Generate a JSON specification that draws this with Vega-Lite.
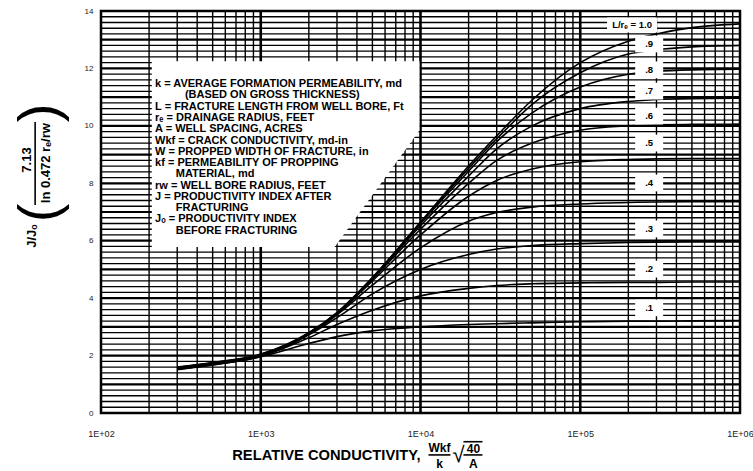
{
  "$schema": "https://vega.github.io/schema/vega-lite/v6.json",
  "width": 639,
  "height": 402,
  "autosize": {"type": "none"},
  "padding": {"left": 101, "top": 11, "right": 13, "bottom": 58},
  "background": "white",
  "config": {
    "view": {"stroke": "#000", "strokeWidth": 2.5},
    "text": {"font": "Liberation Sans"},
    "axis": {"labelFont": "Liberation Sans", "title": null, "grid": false, "ticks": false, "domain": false}
  },
  "datasets": {
    "hminor": [
      {"v":0.2},{"v":0.4},{"v":0.6},{"v":0.8},{"v":1.2},{"v":1.4},{"v":1.6},{"v":1.8},
      {"v":2.2},{"v":2.4},{"v":2.6},{"v":2.8},{"v":3.2},{"v":3.4},{"v":3.6},{"v":3.8},
      {"v":4.2},{"v":4.4},{"v":4.6},{"v":4.8},{"v":5.2},{"v":5.4},{"v":5.6},{"v":5.8},
      {"v":6.2},{"v":6.4},{"v":6.6},{"v":6.8},{"v":7.2},{"v":7.4},{"v":7.6},{"v":7.8},
      {"v":8.2},{"v":8.4},{"v":8.6},{"v":8.8},{"v":9.2},{"v":9.4},{"v":9.6},{"v":9.8},
      {"v":10.2},{"v":10.4},{"v":10.6},{"v":10.8},{"v":11.2},{"v":11.4},{"v":11.6},{"v":11.8},
      {"v":12.2},{"v":12.4},{"v":12.6},{"v":12.8},{"v":13.2},{"v":13.4},{"v":13.6},{"v":13.8}
    ],
    "hmajor": [
      {"v":1},{"v":2},{"v":3},{"v":4},{"v":5},{"v":6},{"v":7},
      {"v":8},{"v":9},{"v":10},{"v":11},{"v":12},{"v":13}
    ],
    "vminor": [
      {"x":200},{"x":300},{"x":400},{"x":500},{"x":600},{"x":700},{"x":800},{"x":900},
      {"x":2000},{"x":3000},{"x":4000},{"x":5000},{"x":6000},{"x":7000},{"x":8000},{"x":9000},
      {"x":20000},{"x":30000},{"x":40000},{"x":50000},{"x":60000},{"x":70000},{"x":80000},{"x":90000},
      {"x":200000},{"x":300000},{"x":400000},{"x":500000},{"x":600000},{"x":700000},{"x":800000},{"x":900000}
    ],
    "vmajor": [{"x":1000},{"x":10000},{"x":100000}],
    "panel": [
      {"x":208,"top":12.25,"bottom":5.78},
      {"x":2900,"top":12.25,"bottom":5.78},
      {"x":9860,"top":12.25,"bottom":9.85}
    ],
    "curves": [
      {"c":"1.0","x":300,"v":1.6},{"c":"1.0","x":500,"v":1.76},{"c":"1.0","x":1000,"v":2.05},{"c":"1.0","x":2000,"v":2.8},{"c":"1.0","x":3000,"v":3.5},{"c":"1.0","x":5000,"v":4.72},{"c":"1.0","x":10000,"v":6.65},{"c":"1.0","x":20000,"v":8.6},{"c":"1.0","x":30000,"v":9.65},{"c":"1.0","x":50000,"v":10.9},{"c":"1.0","x":100000,"v":12.2},{"c":"1.0","x":200000,"v":12.95},{"c":"1.0","x":300000,"v":13.2},{"c":"1.0","x":500000,"v":13.42},{"c":"1.0","x":1000000,"v":13.55},
      {"c":"0.9","x":300,"v":1.59},{"c":"0.9","x":500,"v":1.75},{"c":"0.9","x":1000,"v":2.04},{"c":"0.9","x":2000,"v":2.79},{"c":"0.9","x":3000,"v":3.49},{"c":"0.9","x":5000,"v":4.71},{"c":"0.9","x":10000,"v":6.63},{"c":"0.9","x":20000,"v":8.52},{"c":"0.9","x":30000,"v":9.55},{"c":"0.9","x":50000,"v":10.75},{"c":"0.9","x":100000,"v":11.85},{"c":"0.9","x":200000,"v":12.5},{"c":"0.9","x":300000,"v":12.65},{"c":"0.9","x":500000,"v":12.75},{"c":"0.9","x":1000000,"v":12.8},
      {"c":"0.8","x":300,"v":1.58},{"c":"0.8","x":500,"v":1.74},{"c":"0.8","x":1000,"v":2.03},{"c":"0.8","x":2000,"v":2.78},{"c":"0.8","x":3000,"v":3.48},{"c":"0.8","x":5000,"v":4.7},{"c":"0.8","x":10000,"v":6.6},{"c":"0.8","x":20000,"v":8.42},{"c":"0.8","x":30000,"v":9.45},{"c":"0.8","x":50000,"v":10.45},{"c":"0.8","x":100000,"v":11.35},{"c":"0.8","x":200000,"v":11.8},{"c":"0.8","x":300000,"v":11.9},{"c":"0.8","x":500000,"v":11.95},{"c":"0.8","x":1000000,"v":11.97},
      {"c":"0.7","x":300,"v":1.57},{"c":"0.7","x":500,"v":1.73},{"c":"0.7","x":1000,"v":2.02},{"c":"0.7","x":2000,"v":2.77},{"c":"0.7","x":3000,"v":3.47},{"c":"0.7","x":5000,"v":4.69},{"c":"0.7","x":10000,"v":6.52},{"c":"0.7","x":20000,"v":8.25},{"c":"0.7","x":30000,"v":9.2},{"c":"0.7","x":50000,"v":10.0},{"c":"0.7","x":100000,"v":10.6},{"c":"0.7","x":200000,"v":10.85},{"c":"0.7","x":300000,"v":10.92},{"c":"0.7","x":500000,"v":10.95},{"c":"0.7","x":1000000,"v":10.96},
      {"c":"0.6","x":300,"v":1.56},{"c":"0.6","x":500,"v":1.72},{"c":"0.6","x":1000,"v":2.01},{"c":"0.6","x":2000,"v":2.76},{"c":"0.6","x":3000,"v":3.46},{"c":"0.6","x":5000,"v":4.66},{"c":"0.6","x":10000,"v":6.4},{"c":"0.6","x":20000,"v":8.0},{"c":"0.6","x":30000,"v":8.8},{"c":"0.6","x":50000,"v":9.4},{"c":"0.6","x":100000,"v":9.85},{"c":"0.6","x":200000,"v":10.0},{"c":"0.6","x":300000,"v":10.04},{"c":"0.6","x":500000,"v":10.05},{"c":"0.6","x":1000000,"v":10.06},
      {"c":"0.5","x":300,"v":1.55},{"c":"0.5","x":500,"v":1.71},{"c":"0.5","x":1000,"v":2.0},{"c":"0.5","x":2000,"v":2.75},{"c":"0.5","x":3000,"v":3.45},{"c":"0.5","x":5000,"v":4.6},{"c":"0.5","x":10000,"v":6.2},{"c":"0.5","x":20000,"v":7.55},{"c":"0.5","x":30000,"v":8.1},{"c":"0.5","x":50000,"v":8.5},{"c":"0.5","x":100000,"v":8.75},{"c":"0.5","x":200000,"v":8.83},{"c":"0.5","x":300000,"v":8.85},{"c":"0.5","x":500000,"v":8.86},{"c":"0.5","x":1000000,"v":8.86},
      {"c":"0.4","x":300,"v":1.54},{"c":"0.4","x":500,"v":1.7},{"c":"0.4","x":1000,"v":1.99},{"c":"0.4","x":2000,"v":2.74},{"c":"0.4","x":3000,"v":3.42},{"c":"0.4","x":5000,"v":4.45},{"c":"0.4","x":10000,"v":5.75},{"c":"0.4","x":20000,"v":6.68},{"c":"0.4","x":30000,"v":6.98},{"c":"0.4","x":50000,"v":7.17},{"c":"0.4","x":100000,"v":7.28},{"c":"0.4","x":200000,"v":7.33},{"c":"0.4","x":300000,"v":7.35},{"c":"0.4","x":500000,"v":7.36},{"c":"0.4","x":1000000,"v":7.36},
      {"c":"0.3","x":300,"v":1.53},{"c":"0.3","x":500,"v":1.69},{"c":"0.3","x":1000,"v":1.98},{"c":"0.3","x":2000,"v":2.72},{"c":"0.3","x":3000,"v":3.32},{"c":"0.3","x":5000,"v":4.15},{"c":"0.3","x":10000,"v":5.0},{"c":"0.3","x":20000,"v":5.52},{"c":"0.3","x":30000,"v":5.71},{"c":"0.3","x":50000,"v":5.83},{"c":"0.3","x":100000,"v":5.9},{"c":"0.3","x":200000,"v":5.94},{"c":"0.3","x":300000,"v":5.95},{"c":"0.3","x":500000,"v":5.96},{"c":"0.3","x":1000000,"v":5.96},
      {"c":"0.2","x":300,"v":1.52},{"c":"0.2","x":500,"v":1.68},{"c":"0.2","x":1000,"v":1.97},{"c":"0.2","x":2000,"v":2.62},{"c":"0.2","x":3000,"v":3.08},{"c":"0.2","x":5000,"v":3.58},{"c":"0.2","x":10000,"v":4.08},{"c":"0.2","x":20000,"v":4.34},{"c":"0.2","x":30000,"v":4.44},{"c":"0.2","x":50000,"v":4.5},{"c":"0.2","x":100000,"v":4.53},{"c":"0.2","x":200000,"v":4.55},{"c":"0.2","x":300000,"v":4.55},{"c":"0.2","x":500000,"v":4.56},{"c":"0.2","x":1000000,"v":4.56},
      {"c":"0.1","x":300,"v":1.51},{"c":"0.1","x":500,"v":1.67},{"c":"0.1","x":1000,"v":1.96},{"c":"0.1","x":2000,"v":2.42},{"c":"0.1","x":3000,"v":2.66},{"c":"0.1","x":5000,"v":2.86},{"c":"0.1","x":10000,"v":3.0},{"c":"0.1","x":20000,"v":3.08},{"c":"0.1","x":30000,"v":3.11},{"c":"0.1","x":50000,"v":3.14},{"c":"0.1","x":100000,"v":3.18},{"c":"0.1","x":200000,"v":3.2},{"c":"0.1","x":300000,"v":3.2},{"c":"0.1","x":500000,"v":3.21},{"c":"0.1","x":1000000,"v":3.22}
    ],
    "tagTop": [{"lab":"L/rₑ = 1.0","x":211000,"v":13.51}],
    "tags": [
      {"lab":".9","x":270000,"v":12.85},
      {"lab":".8","x":270000,"v":11.95},
      {"lab":".7","x":270000,"v":11.21},
      {"lab":".6","x":270000,"v":10.34},
      {"lab":".5","x":270000,"v":9.4},
      {"lab":".4","x":270000,"v":8.01},
      {"lab":".3","x":270000,"v":6.41},
      {"lab":".2","x":270000,"v":5.01},
      {"lab":".1","x":270000,"v":3.66}
    ],
    "key": [
      {"t":"k = AVERAGE FORMATION PERMEABILITY, md","x":218,"v":11.46},
      {"t":"(BASED ON GROSS THICKNESS)","x":335,"v":11.06},
      {"t":"L = FRACTURE LENGTH FROM WELL BORE, Ft","x":218,"v":10.67},
      {"t":"rₑ = DRAINAGE RADIUS, FEET","x":218,"v":10.28},
      {"t":"A = WELL SPACING, ACRES","x":218,"v":9.89},
      {"t":"Wkf = CRACK CONDUCTIVITY, md-in","x":218,"v":9.49},
      {"t":"W = PROPPED WIDTH OF FRACTURE, in","x":218,"v":9.1},
      {"t":"kf = PERMEABILITY OF PROPPING","x":218,"v":8.7},
      {"t":"MATERIAL, md","x":294,"v":8.31},
      {"t":"rw = WELL BORE RADIUS, FEET","x":218,"v":7.92},
      {"t":"J = PRODUCTIVITY INDEX AFTER","x":218,"v":7.52},
      {"t":"FRACTURING","x":294,"v":7.13},
      {"t":"Jₒ = PRODUCTIVITY INDEX","x":218,"v":6.74},
      {"t":"BEFORE FRACTURING","x":294,"v":6.35}
    ],
    "ytitle": [
      {"t":"J/Jₒ","x":37,"v":6.16},
      {"t":"7.13","x":34.5,"v":8.81},
      {"t":"ln 0.472 rₑ/rw","x":45,"v":8.7}
    ],
    "brackets": [
      {"t":"(","x":41.6,"v":6.97},
      {"t":")","x":41.6,"v":10.45}
    ],
    "xtitle": [{"t":"RELATIVE CONDUCTIVITY,","x":10000,"v":-1.5}],
    "xfrac": [
      {"t":"Wkf","x":13150,"v":-1.22},
      {"t":"k","x":13150,"v":-1.78},
      {"t":"40","x":21430,"v":-1.24},
      {"t":"A","x":21430,"v":-1.78}
    ],
    "radical": [{"t":"√","x":17300,"v":-1.45}],
    "bars": [
      {"x":38.7,"x2":38.7,"v":10.13,"v2":7.24},
      {"x":11220,"x2":15400,"v":-1.46,"v2":-1.46},
      {"x":18570,"x2":24420,"v":-1.46,"v2":-1.46},
      {"x":18570,"x2":24420,"v":-1.0,"v2":-1.0}
    ]
  },
  "layer": [
    {
      "data": {"name": "hminor"},
      "mark": {"type": "rule", "stroke": "#000", "strokeWidth": 1.3},
      "encoding": {
        "y": {"field": "v", "type": "quantitative", "scale": {"domain": [0, 14]},
          "axis": {"values": [0, 2, 4, 6, 8, 10, 12, 14], "title": null, "ticks": false, "domain": false, "grid": false,
            "labelFontSize": 8, "labelPadding": 8, "labelColor": "#222"}}
      }
    },
    {
      "data": {"name": "hmajor"},
      "mark": {"type": "rule", "stroke": "#000", "strokeWidth": 2.2},
      "encoding": {"y": {"field": "v", "type": "quantitative", "scale": {"domain": [0, 14]}}}
    },
    {
      "data": {"name": "vminor"},
      "mark": {"type": "rule", "stroke": "#000", "strokeWidth": 1.4},
      "encoding": {
        "x": {"field": "x", "type": "quantitative", "scale": {"type": "log", "domain": [100, 1000000]},
          "axis": {"values": [100, 1000, 10000, 100000, 1000000], "title": null, "ticks": false, "domain": false, "grid": false,
            "labelFontSize": 9, "labelPadding": 16, "labelFlush": false, "labelOverlap": false, "labelColor": "#222",
            "labelExpr": "'1E+0' + format(log(datum.value) / LN10, '.0f')"}}
      }
    },
    {
      "data": {"name": "vmajor"},
      "mark": {"type": "rule", "stroke": "#000", "strokeWidth": 2.6},
      "encoding": {"x": {"field": "x", "type": "quantitative", "scale": {"type": "log", "domain": [100, 1000000]}}}
    },
    {
      "data": {"name": "panel"},
      "mark": {"type": "area", "fill": "white", "opacity": 1},
      "encoding": {
        "x": {"field": "x", "type": "quantitative", "scale": {"type": "log", "domain": [100, 1000000]}},
        "y": {"field": "top", "type": "quantitative", "scale": {"domain": [0, 14]}},
        "y2": {"field": "bottom"}
      }
    },
    {
      "data": {"name": "curves"},
      "mark": {"type": "line", "stroke": "#000", "strokeWidth": 1.6, "interpolate": "monotone"},
      "encoding": {
        "x": {"field": "x", "type": "quantitative", "scale": {"type": "log", "domain": [100, 1000000]}},
        "y": {"field": "v", "type": "quantitative", "scale": {"domain": [0, 14]}},
        "detail": {"field": "c"}
      }
    },
    {
      "data": {"name": "tags"},
      "mark": {"type": "point", "shape": "M-1,-0.6H1V0.6H-1Z", "size": 784, "filled": true, "fill": "white", "opacity": 1, "strokeWidth": 0},
      "encoding": {
        "x": {"field": "x", "type": "quantitative", "scale": {"type": "log", "domain": [100, 1000000]}},
        "y": {"field": "v", "type": "quantitative", "scale": {"domain": [0, 14]}}
      }
    },
    {
      "data": {"name": "tagTop"},
      "mark": {"type": "point", "shape": "M-1,-0.3H1V0.3H-1Z", "size": 2500, "filled": true, "fill": "white", "opacity": 1, "strokeWidth": 0},
      "encoding": {
        "x": {"field": "x", "type": "quantitative", "scale": {"type": "log", "domain": [100, 1000000]}},
        "y": {"field": "v", "type": "quantitative", "scale": {"domain": [0, 14]}}
      }
    },
    {
      "data": {"name": "tags"},
      "mark": {"type": "text", "fontSize": 9.5, "fontWeight": "bold", "align": "center", "baseline": "middle", "color": "#000"},
      "encoding": {
        "x": {"field": "x", "type": "quantitative", "scale": {"type": "log", "domain": [100, 1000000]}},
        "y": {"field": "v", "type": "quantitative", "scale": {"domain": [0, 14]}},
        "text": {"field": "lab"}
      }
    },
    {
      "data": {"name": "tagTop"},
      "mark": {"type": "text", "fontSize": 9.5, "fontWeight": "bold", "align": "center", "baseline": "middle", "color": "#000"},
      "encoding": {
        "x": {"field": "x", "type": "quantitative", "scale": {"type": "log", "domain": [100, 1000000]}},
        "y": {"field": "v", "type": "quantitative", "scale": {"domain": [0, 14]}},
        "text": {"field": "lab"}
      }
    },
    {
      "data": {"name": "key"},
      "mark": {"type": "text", "fontSize": 11, "fontWeight": "bold", "align": "left", "baseline": "middle", "color": "#000"},
      "encoding": {
        "x": {"field": "x", "type": "quantitative", "scale": {"type": "log", "domain": [100, 1000000]}},
        "y": {"field": "v", "type": "quantitative", "scale": {"domain": [0, 14]}},
        "text": {"field": "t"}
      }
    },
    {
      "data": {"name": "ytitle"},
      "mark": {"type": "text", "fontSize": 13, "fontWeight": "bold", "angle": 270, "align": "center", "baseline": "middle", "color": "#000"},
      "encoding": {
        "x": {"field": "x", "type": "quantitative", "scale": {"type": "log", "domain": [100, 1000000]}},
        "y": {"field": "v", "type": "quantitative", "scale": {"domain": [0, 14]}},
        "text": {"field": "t"}
      }
    },
    {
      "data": {"name": "brackets"},
      "mark": {"type": "text", "fontSize": 56, "angle": 270, "align": "center", "baseline": "middle", "color": "#000"},
      "encoding": {
        "x": {"field": "x", "type": "quantitative", "scale": {"type": "log", "domain": [100, 1000000]}},
        "y": {"field": "v", "type": "quantitative", "scale": {"domain": [0, 14]}},
        "text": {"field": "t"}
      }
    },
    {
      "data": {"name": "xtitle"},
      "mark": {"type": "text", "fontSize": 14.7, "fontWeight": "bold", "align": "right", "baseline": "middle", "color": "#000"},
      "encoding": {
        "x": {"field": "x", "type": "quantitative", "scale": {"type": "log", "domain": [100, 1000000]}},
        "y": {"field": "v", "type": "quantitative", "scale": {"domain": [0, 14]}},
        "text": {"field": "t"}
      }
    },
    {
      "data": {"name": "xfrac"},
      "mark": {"type": "text", "fontSize": 12, "fontWeight": "bold", "align": "center", "baseline": "middle", "color": "#000"},
      "encoding": {
        "x": {"field": "x", "type": "quantitative", "scale": {"type": "log", "domain": [100, 1000000]}},
        "y": {"field": "v", "type": "quantitative", "scale": {"domain": [0, 14]}},
        "text": {"field": "t"}
      }
    },
    {
      "data": {"name": "radical"},
      "mark": {"type": "text", "fontSize": 22, "align": "center", "baseline": "middle", "color": "#000"},
      "encoding": {
        "x": {"field": "x", "type": "quantitative", "scale": {"type": "log", "domain": [100, 1000000]}},
        "y": {"field": "v", "type": "quantitative", "scale": {"domain": [0, 14]}},
        "text": {"field": "t"}
      }
    },
    {
      "data": {"name": "bars"},
      "mark": {"type": "rule", "stroke": "#000", "strokeWidth": 1.6},
      "encoding": {
        "x": {"field": "x", "type": "quantitative", "scale": {"type": "log", "domain": [100, 1000000]}},
        "x2": {"field": "x2"},
        "y": {"field": "v", "type": "quantitative", "scale": {"domain": [0, 14]}},
        "y2": {"field": "v2"}
      }
    }
  ]
}
